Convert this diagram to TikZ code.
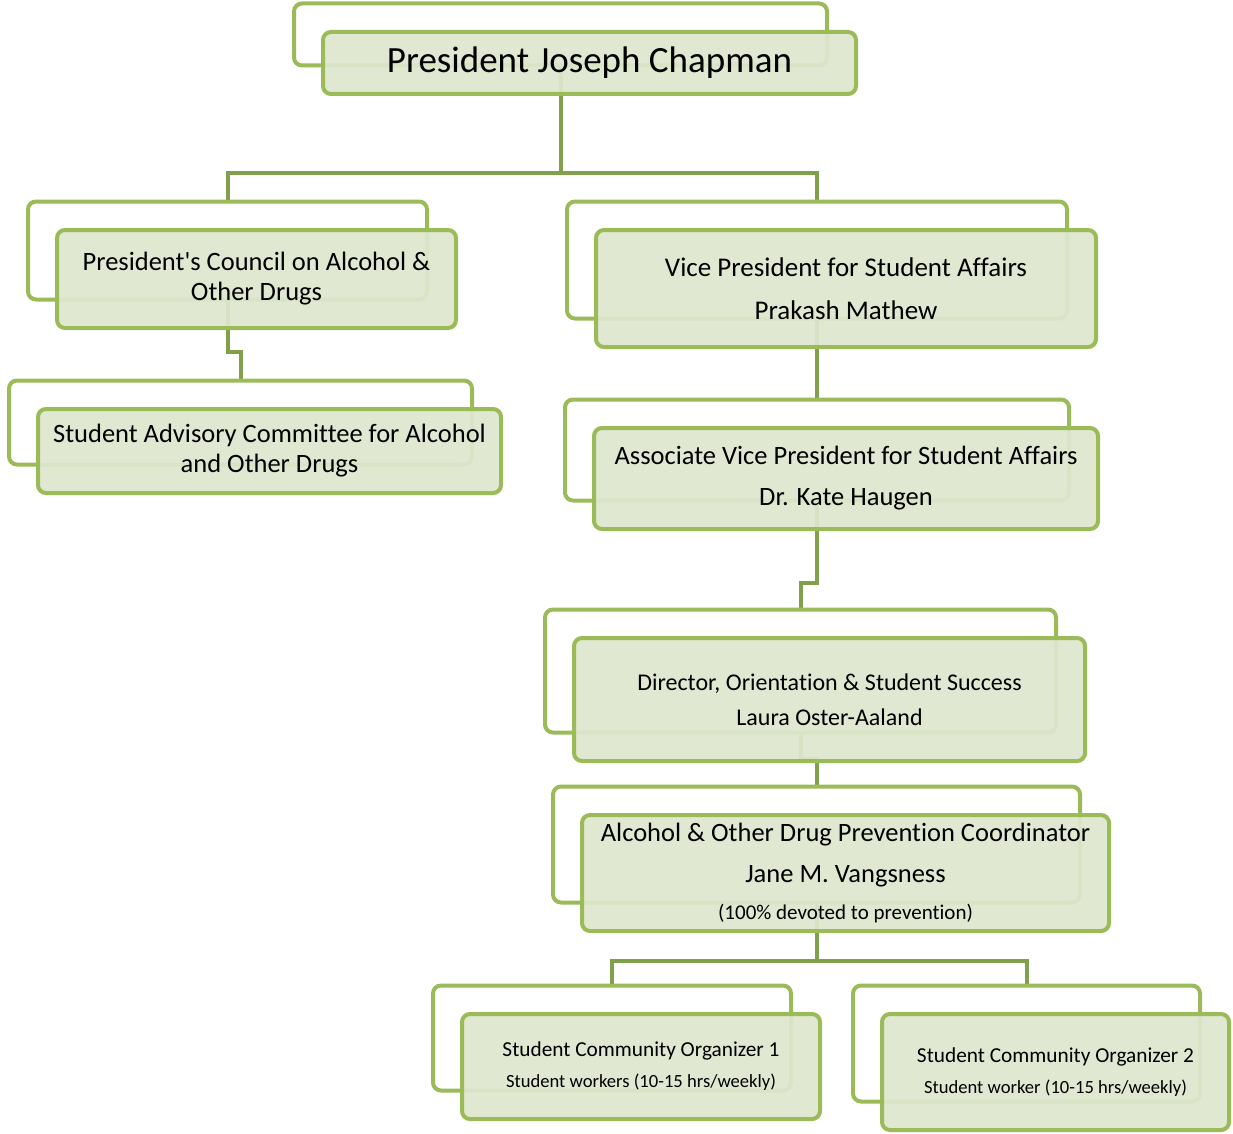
\documentclass[tikz,border=0pt]{standalone}
\usepackage{fontspec}
\newfontfamily\carl{Carlito}[Ligatures=NoCommon]
\usetikzlibrary{backgrounds}
\definecolor{boxline}{HTML}{9BBB59}
\definecolor{connline}{HTML}{80A04C}
\definecolor{boxfill}{HTML}{DEE7CE}
\newcommand\orgpair[7]{%
  \node[backbox, minimum width=#4pt, minimum height=#5pt] (#1B) at (#2-29,#3-28.5) {};
  \node[frontbox, minimum width=#4pt, minimum height=#5pt, font={\carl#6}] (#1) at (#2,#3) {#7};}
\newcommand\fs[2]{\fontsize{#1}{#2}\selectfont}
\begin{document}
\begin{tikzpicture}[x=1pt,y=-1pt,
  backbox/.style={draw=boxline, line width=4pt, fill=white, rounded corners=8pt, inner sep=0pt},
  frontbox/.style={draw=boxline, line width=4pt, fill=boxfill, fill opacity=0.93, text opacity=1,
    rounded corners=8pt, align=center, inner sep=0pt, text=black},
  conn/.style={draw=connline, line width=4pt}]
\useasboundingbox (0,0) rectangle (1233,1134);

\orgpair{pres}{589.5}{63}{533}{62}{\fs{37}{44}}{President Joseph Chapman}
\orgpair{coun}{256.5}{279}{399}{98}{\fs{26.5}{30}}{President's Council on Alcohol \&\\Other Drugs}
\orgpair{sa}{269.5}{451}{463}{84}{\fs{26.5}{30}}{Student Advisory Committee for Alcohol\\and Other Drugs}
\orgpair{vp}{846}{288.5}{500}{117}{\fs{27}{30}}{Vice President for Student Affairs\\[13pt]Prakash Mathew}
\orgpair{avp}{846}{478.5}{504}{101}{\fs{26.5}{30}}{Associate Vice President for Student Affairs\\[11pt]Dr. Kate Haugen}
\orgpair{dir}{829.5}{699.5}{511}{123}{\fs{24}{28}}{Director, Orientation \& Student Success\\[7pt]Laura Oster-Aaland}
\orgpair{aod}{845.5}{873}{527}{116}{\fs{26.5}{30}}{Alcohol \& Other Drug Prevention Coordinator\\[11pt]Jane M. Vangsness\\[7pt]{\fs{21}{25}(100\% devoted to prevention)}}
\orgpair{scoa}{641}{1066.5}{358}{105}{\fs{21.3}{25}}{Student Community Organizer 1\\[6pt]{\fs{18.6}{22}Student workers (10-15 hrs/weekly)}}
\orgpair{scob}{1055.5}{1072}{347}{116}{\fs{21.3}{25}}{Student Community Organizer 2\\[6pt]{\fs{18.6}{22}Student worker (10-15 hrs/weekly)}}

\begin{pgfonlayer}{background}
  \fill[white] (0,0) rectangle (1233,1134);
  \coordinate (e1) at ([yshift=26pt]counB.north);
  \draw[conn] (presB.center) -- (presB.center |- e1);
  \draw[conn] (counB.north) |- (vpB.north |- e1) -- (vpB.north);
  \draw[conn] (counB.center) |- ([yshift=27pt]saB.north) -- (saB.north);
  \draw[conn] (vpB.center) |- ([yshift=26pt]avpB.north) -- (avpB.north);
  \draw[conn] (avpB.center) |- ([yshift=25pt]dirB.north) -- (dirB.north);
  \draw[conn] (dirB.center) |- ([yshift=26pt]aodB.north) -- (aodB.north);
  \coordinate (e2) at ([yshift=23pt]scoaB.north);
  \draw[conn] (aodB.center) -- (aodB.center |- e2);
  \draw[conn] (scoaB.north) |- (scobB.north |- e2) -- (scobB.north);
\end{pgfonlayer}
\end{tikzpicture}
\end{document}
